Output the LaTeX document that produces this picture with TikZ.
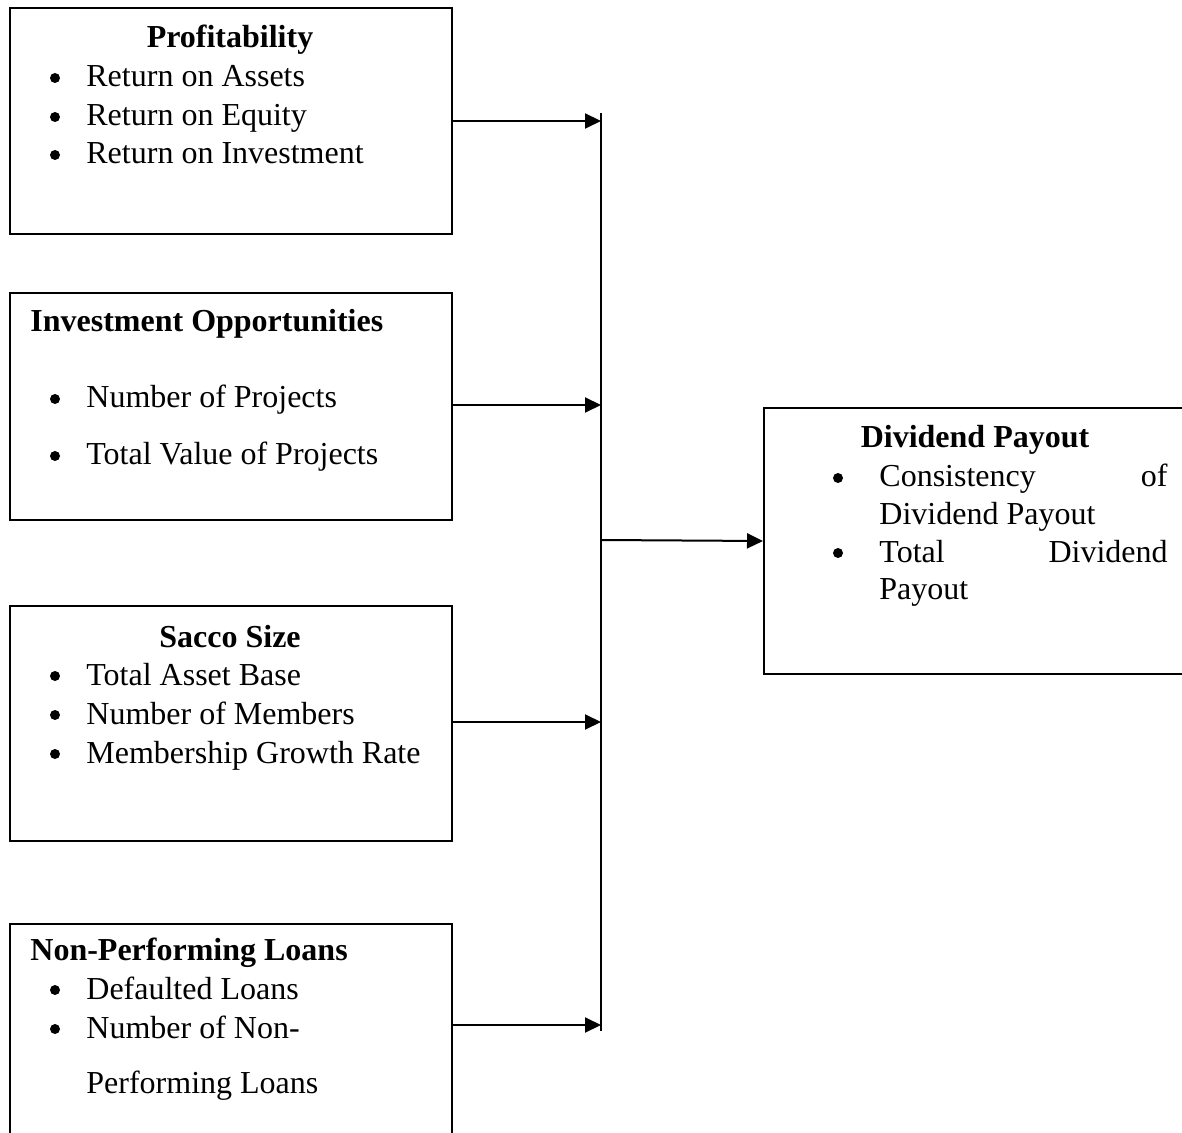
\documentclass[tikz,border=0pt]{standalone}
\usepackage{fontspec}
\setmainfont{Liberation Serif}
\usetikzlibrary{arrows.meta}
\tikzset{
  boxnode/.style={draw=black, line width=1pt, rectangle, inner sep=0pt, anchor=north west},
  txt/.style={inner sep=0pt, anchor=base west, font=\fontsize{16pt}{19pt}\selectfont},
  txte/.style={inner sep=0pt, anchor=base east, font=\fontsize{16pt}{19pt}\selectfont},
  ttl/.style={inner sep=0pt, anchor=base west, font=\fontsize{16pt}{19pt}\selectfont\bfseries},
  ttlc/.style={inner sep=0pt, anchor=base, font=\fontsize{16pt}{19pt}\selectfont\bfseries},
  bul/.style={circle, fill=black, inner sep=0pt, minimum size=5pt},
  conn/.style={line width=1pt, -{Triangle[length=8pt,width=7.5pt]}},
  vline/.style={line width=1pt}
}
\begin{document}
\begin{tikzpicture}[x=0.5pt,y=-0.5pt]
\clip (0,0) rectangle (1182,1133);
\fill[white] (0,0) rectangle (1182,1133);
% boxes
\node[boxnode, minimum width=221pt, minimum height=113pt] (b1) at (9,7) {};
\node[boxnode, minimum width=221pt, minimum height=113.5pt] (b2) at (9,292) {};
\node[boxnode, minimum width=221pt, minimum height=117.5pt] (b3) at (9,605) {};
\node[boxnode, minimum width=221pt, minimum height=120pt] (b4) at (9,923) {};
\node[boxnode, minimum width=220pt, minimum height=133pt] (rb) at (763,407) {};
% box 1
\node[ttlc] (t1) at (230,48) {Profitability};
\node[bul] (b1a) at (55,78) {};
\node[txt] (l1a) at (86,87) {Return on Assets};
\node[bul] (b1b) at (55,117) {};
\node[txt] (l1b) at (86,126) {Return on Equity};
\node[bul] (b1c) at (55,155) {};
\node[txt] (l1c) at (86,164) {Return on Investment};
% box 2
\node[ttl] (t2) at (30,332) {Investment Opportunities};
\node[bul] (b2a) at (55,399) {};
\node[txt] (l2a) at (86,408) {Number of Projects};
\node[bul] (b2b) at (55,456) {};
\node[txt] (l2b) at (86,465) {Total Value of Projects};
% box 3
\node[ttlc] (t3) at (230,647) {Sacco Size};
\node[bul] (b3a) at (55,676) {};
\node[txt] (l3a) at (86,685) {Total Asset Base};
\node[bul] (b3b) at (55,715) {};
\node[txt] (l3b) at (86,724) {Number of Members};
\node[bul] (b3c) at (55,754) {};
\node[txt] (l3c) at (86,763) {Membership Growth Rate};
% box 4
\node[ttl] (t4) at (30,960) {Non-Performing Loans};
\node[bul] (b4a) at (55,990) {};
\node[txt] (l4a) at (86,999) {Defaulted Loans};
\node[bul] (b4b) at (55,1029) {};
\node[txt] (l4b) at (86,1038) {Number of Non-};
\node[txt] (l4c) at (86,1093) {Performing Loans};
% right box
\node[ttlc] (tr) at (975,448) {Dividend Payout};
\node[bul] (bra) at (838,478) {};
\node[txt] (lra) at (879,487) {Consistency};
\node[txte] (lrb) at (1168,487) {of};
\node[txt] (lrc) at (879,524) {Dividend Payout};
\node[bul] (brb) at (838,553) {};
\node[txt] (lrd) at (879,562) {Total};
\node[txte] (lre) at (1168,562) {Dividend};
\node[txt] (lrf) at (879,599) {Payout};
% connectors
\coordinate (vtop) at (601,113);
\coordinate (vbot) at (601,1031);
\coordinate (v1) at (601,121);
\coordinate (v2) at (601,405);
\coordinate (v3) at (601,722);
\coordinate (v4) at (601,1025);
\coordinate (vm) at (601,540);
\draw[vline] (vtop) -- (vbot);
\draw[conn] (b1.east |- v1) -- (v1);
\draw[conn] (b2.east |- v2) -- (v2);
\draw[conn] (b3.east |- v3) -- (v3);
\draw[conn] (b4.east |- v4) -- (v4);
\draw[conn] (vm) -- (rb.west);
\end{tikzpicture}
\end{document}
